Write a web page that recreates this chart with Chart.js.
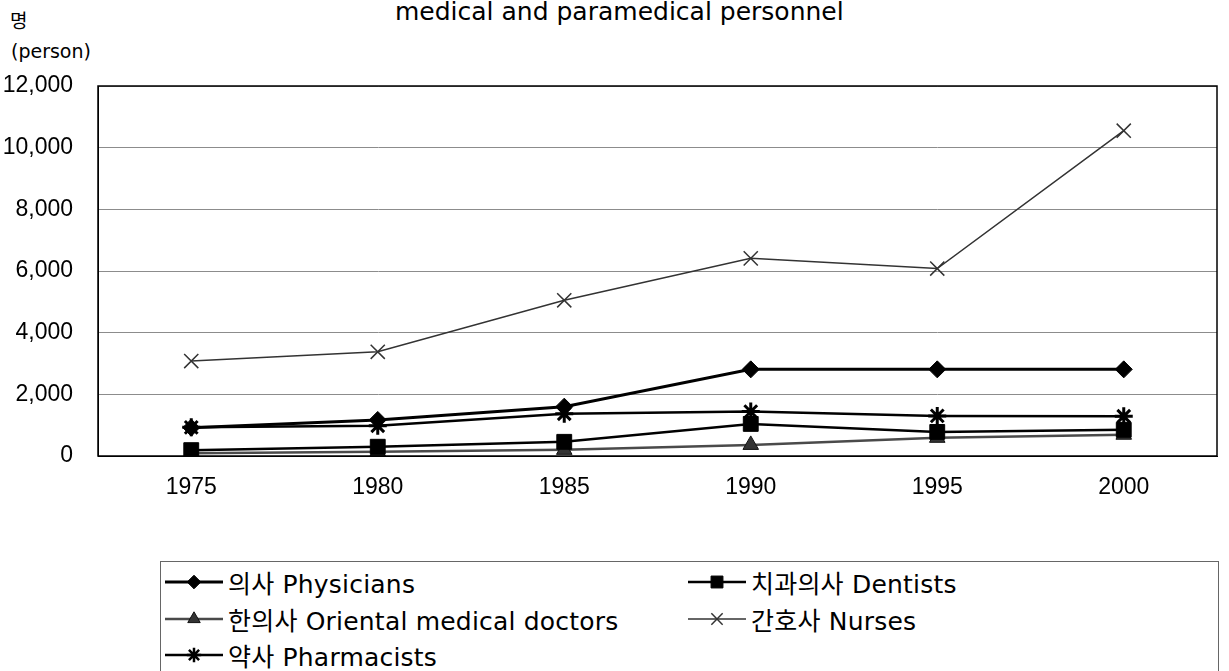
<!DOCTYPE html>
<html>
<head>
<meta charset="utf-8">
<script src="https://cdn.jsdelivr.net/npm/chart.js@4/dist/chart.umd.min.js"></script>
<style>
  body { margin: 0; background: #fff; width: 1229px; height: 671px; overflow: hidden; position: relative; }
  #plot { position: absolute; left: 0; top: 0; width: 1229px; height: 520px; }
  .txt { position: absolute; color: #000; white-space: nowrap; font-family: "DejaVu Sans", "Noto Sans CJK KR", sans-serif; }
  #title { left: 395px; top: -1px; font-size: 25px; line-height: 25px; }
  #unit1 { left: 10px; top: 9px; font-size: 19px; line-height: 22px; font-family: "Noto Sans CJK KR", sans-serif; }
  #unit2 { left: 11px; top: 40px; font-size: 19px; line-height: 22px; }
  #legend { position: absolute; left: 160px; top: 561px; width: 1057px; height: 120px; border: 1px solid #666; }
  .item { position: absolute; height: 30px; display: flex; align-items: center; }
  .item canvas { width: 58px; height: 24px; margin-right: 5px; }
  .item span { font-family: "DejaVu Sans", "Noto Sans CJK KR", sans-serif; font-size: 25px; letter-spacing: 0.2px; color: #000; }
</style>
</head>
<body>
<div class="txt" id="title">medical and paramedical personnel</div>
<div class="txt" id="unit1">명</div>
<div class="txt" id="unit2">(person)</div>
<div id="plot"><canvas id="chart"></canvas></div>
<div id="legend"></div>
<script>
const years = ["1975", "1980", "1985", "1990", "1995", "2000"];
const physicians = [920, 1170, 1600, 2810, 2810, 2810];
const dentists = [190, 300, 460, 1040, 780, 850];
const orientalDoctors = [90, 140, 200, 360, 590, 690];
const nurses = [3080, 3380, 5050, 6410, 6080, 10550];
const pharmacists = [930, 980, 1370, 1440, 1300, 1290];
const seriesLabels = [
  "의사 Physicians",
  "치과의사 Dentists",
  "한의사 Oriental medical doctors",
  "간호사 Nurses",
  "약사 Pharmacists",
];

Chart.defaults.font.family = "'Liberation Sans', Arial, sans-serif";
Chart.defaults.color = "#000";

// frame round the plot area
const frame = {
  id: "frame",
  afterDatasetsDraw(chart) {
    const { ctx, chartArea } = chart;
    ctx.save();
    ctx.strokeStyle = "#000";
    ctx.lineWidth = 1.5;
    ctx.strokeRect(chartArea.left, chartArea.top, chartArea.right - chartArea.left, chartArea.bottom - chartArea.top);
    ctx.restore();
  },
};

const chart = new Chart(document.getElementById("chart"), {
  type: "line",
  data: {
    labels: years,
    datasets: [
      {
        label: seriesLabels[0], data: physicians,
        borderColor: "#000", backgroundColor: "#000", borderWidth: 3,
        pointStyle: "rectRot", pointRadius: 8.5, pointBorderWidth: 1,
      },
      {
        label: seriesLabels[1], data: dentists,
        borderColor: "#000", backgroundColor: "#000", borderWidth: 2.5,
        pointStyle: "rect", pointRadius: 10.5, pointBorderWidth: 1,
      },
      {
        label: seriesLabels[2], data: orientalDoctors,
        borderColor: "#4a4a4a", backgroundColor: "#333", borderWidth: 2.5,
        pointStyle: "triangle", pointRadius: 9, pointBorderWidth: 1,
        pointBorderColor: "#111",
      },
      {
        label: seriesLabels[3], data: nurses,
        borderColor: "#333", backgroundColor: "#333", borderWidth: 1.5,
        pointStyle: "crossRot", pointRadius: 10, pointBorderWidth: 1.5,
      },
      {
        label: seriesLabels[4], data: pharmacists,
        borderColor: "#000", backgroundColor: "#000", borderWidth: 2.5,
        pointStyle: "star", pointRadius: 9, pointBorderWidth: 3,
      },
    ],
  },
  options: {
    responsive: true,
    maintainAspectRatio: false,
    animation: false,
    layout: { padding: { top: 86, right: 10, left: 0, bottom: 0 } },
    plugins: { legend: { display: false }, tooltip: { enabled: false } },
    elements: { line: { tension: 0 } },
    scales: {
      x: {
        offset: true,
        afterFit: (scale) => { scale.height = 64; },
        grid: { display: false, drawTicks: false },
        border: { color: "#000" },
        ticks: { padding: 18, font: { size: 23 } },
      },
      y: {
        min: 0, max: 12000,
        afterFit: (scale) => { scale.width = 98; },
        grid: { color: "#8c8c8c", lineWidth: 1, drawTicks: false },
        border: { color: "#000" },
        ticks: {
          stepSize: 2000, padding: 25, font: { size: 23 },
          callback: (v) => v.toLocaleString("en-US"),
        },
      },
    },
  },
  plugins: [frame],
});

// legend in two columns, symbols drawn with the Chart.js point helper
const legend = document.getElementById("legend");
const colX = [4, 527];
const rowY = [5, 42, 78];
chart.data.datasets.forEach((ds, i) => {
  const item = document.createElement("div");
  item.className = "item";
  item.style.left = colX[i % 2] + "px";
  item.style.top = rowY[Math.floor(i / 2)] + "px";
  const c = document.createElement("canvas");
  c.width = 58; c.height = 24;
  const ctx = c.getContext("2d");
  ctx.strokeStyle = ds.borderColor;
  ctx.lineWidth = ds.borderWidth;
  ctx.beginPath(); ctx.moveTo(0, 12); ctx.lineTo(58, 12); ctx.stroke();
  ctx.fillStyle = ds.backgroundColor;
  ctx.strokeStyle = ds.pointBorderColor || ds.borderColor;
  ctx.lineWidth = Math.min(ds.pointBorderWidth, 2.5);
  Chart.helpers.drawPoint(ctx, { pointStyle: ds.pointStyle, radius: ds.pointRadius * 0.8, borderWidth: ds.pointBorderWidth, rotation: 0 }, 29, 12);
  const s = document.createElement("span");
  s.textContent = ds.label;
  item.appendChild(c);
  item.appendChild(s);
  legend.appendChild(item);
});
</script>
</body>
</html>
